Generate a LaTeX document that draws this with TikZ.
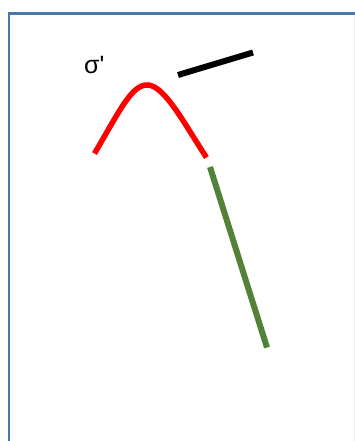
\documentclass[tikz,border=0pt]{standalone}
\usepackage{fontspec}
\setmainfont{Liberation Sans}
\definecolor{framecol}{HTML}{4A76A8}
\definecolor{greencol}{HTML}{538135}
\begin{document}
\begin{tikzpicture}[x=1pt,y=-1pt,
  frameline/.style={draw=framecol,line width=2.5pt},
  curveline/.style={draw=red,line width=5.5pt},
  blackline/.style={draw=black,line width=6pt},
  greenline/.style={draw=greencol,line width=6pt},
  lbl/.style={inner sep=0pt,font=\fontsize{25}{29}\selectfont}]
\useasboundingbox (0,0) rectangle (355,441);
\draw[frameline] (8.8,450) -- (8.8,13.3) -- (360,13.3);
\draw[gray!15,line width=0.8pt] (354.3,15) -- (354.3,441);
\node[lbl,anchor=base west] (sig) at (84,73.5) {σ\textquotesingle};
\coordinate (r1) at (94.5,153.5);
\coordinate (r2) at (148,85);
\coordinate (r3) at (206.5,157.5);
\draw[curveline] (r1) .. controls (120,110) and (132,84) .. (r2)
  .. controls (165,86) and (185,125) .. (r3);
\coordinate (b1) at (178,75);
\coordinate (b2) at (253,52.5);
\draw[blackline] (b1) -- (b2);
\coordinate (g1) at (210,167);
\coordinate (g2) at (267,347.5);
\draw[greenline] (g1) -- (g2);
\end{tikzpicture}
\end{document}
